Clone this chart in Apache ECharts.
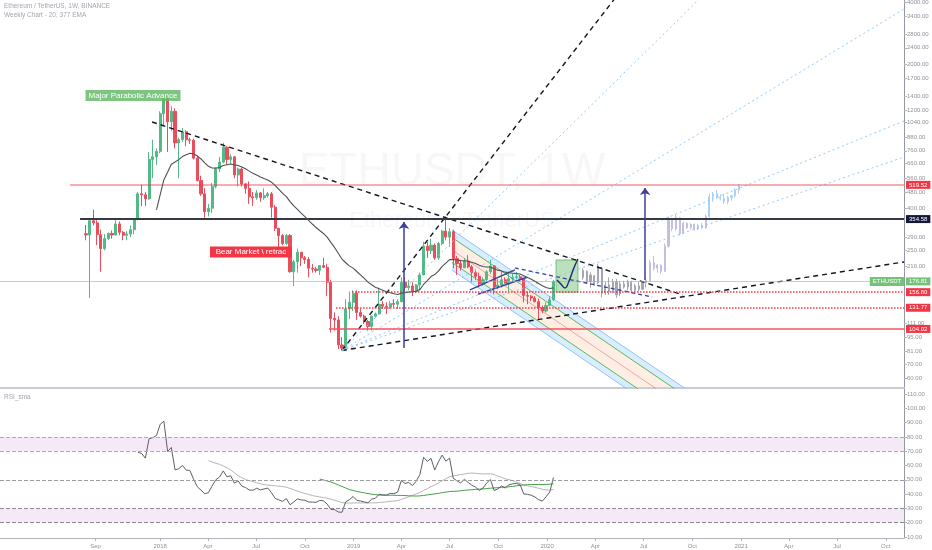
<!DOCTYPE html>
<html><head><meta charset="utf-8">
<script src="https://cdn.jsdelivr.net/npm/echarts@6/dist/echarts.min.js"></script>
<style>html,body{margin:0;padding:0;background:#fff}#c{width:932px;height:550px}</style>
</head><body><div id="c"></div>
<script>
// ---------- DATA ----------
// weekly candles from 2017-08-14 (week index 0): [open, high, low, close]
const firstWeek = '2017-08-14';
const candles = [
[301,332,280,297],[297,355,147,348],[348,394,330,340],[340,350,265,298],[298,315,197,255],
[255,300,250,285],[285,305,280,302],[302,312,285,297],[297,350,295,336],[336,345,296,306],
[306,310,280,296],[296,310,280,300],[300,330,290,315],[315,356,300,354],[354,480,350,470],
[470,520,410,465],[465,480,410,445],[445,750,440,690],[690,860,560,710],[710,780,650,755],
[755,1180,740,1150],[1150,1420,1000,1360],[1360,1400,750,1050],[1050,1250,950,1180],[1180,1220,780,830],
[830,880,560,860],[860,980,840,940],[940,955,800,860],[860,880,820,855],[855,870,690,700],
[700,720,540,545],[545,575,460,470],[470,500,360,385],[385,420,365,400],[400,530,380,510],
[510,630,500,620],[620,710,600,670],[670,830,660,790],[790,800,650,690],[690,730,650,710],
[710,715,560,580],[580,630,510,620],[620,630,510,525],[525,530,470,500],[500,540,420,455],
[455,480,410,450],[450,490,440,475],[475,480,430,450],[450,500,440,460],[460,480,450,470],
[470,480,360,405],[405,415,310,320],[320,320,250,295],[295,300,265,270],[270,300,265,295],
[295,300,195,197],[197,225,168,220],[220,255,195,245],[245,245,210,230],[230,235,215,226],
[226,232,185,205],[205,215,195,203],[203,208,195,200],[200,212,190,211],[211,230,205,207],
[207,215,150,175],[175,180,100,117],[117,125,102,115],[115,120,83,87],[87,95,81.8,84],
[84,145,83,130],[130,158,116,140],[140,160,127,155],[155,160,115,125],[125,130,118,120],
[120,122,110,113],[113,115,102,107],[107,121,102,120],[120,125,118,123],[123,165,122,137],
[137,142,130,134],[134,140,123,133],[133,142,130,138],[138,145,133,137],[137,145,130,141],
[141,185,140,175],[175,185,160,165],[165,180,160,168],[168,175,150,158],[158,172,155,170],
[170,195,160,190],[190,275,190,262],[262,275,230,250],[250,285,240,265],[265,270,225,230],
[230,275,225,270],[270,315,265,310],[310,364.5,280,290],[290,320,260,308],[308,315,205,228],
[228,235,190,216],[216,225,200,206],[206,230,205,222],[222,237,205,208],[208,212,175,195],
[195,200,180,187],[187,195,165,172],[172,185,168,180],[180,200,175,197],[197,225,192,210],
[210,212,153,165],[165,182,162,170],[170,200,165,180],[180,185,168,172],[172,198,158,182],
[182,192,176,185],[185,196,181,186],[186,190,176,183],[183,184,140,151],[151,158,137,150],
[150,152,142,147],[147,150,140,141],[141,146,116,132],[132,135,124,127],[127,140,125,135],
[135,150,134,144],[144,180,142,176.81]
];
// projected bar pattern: [week, open, high, low, close]
const ghostGray = [
[134,185,205,180,200],[135,198,200,172,176],[136,176,195,165,190],[137,188,190,168,172],[138,174,215,172,210],
[139,205,208,148,155],[140,156,176,152,170],[141,170,185,152,158],[142,160,182,155,176],[143,176,182,147,152],
[144,154,178,150,172],[145,172,178,163,166],[146,166,180,160,176],[147,175,178,156,160],[148,160,172,155,168],
[149,168,176,158,162],[150,162,178,160,175],[151,175,182,165,178]
];
const ghostPurple = [
[152,178,225,176,218],[153,218,235,200,205],[154,205,215,195,212],[155,212,214,192,198],[156,198,270,196,262],
[157,262,365,258,352],[158,350,360,310,318],[159,318,372,312,362],[160,360,362,295,302],[161,302,345,300,338],
[162,338,342,318,322],[163,322,338,316,334],[164,334,338,312,318],[165,318,336,314,330],[166,330,340,318,322],
[167,322,372,318,365]
];
const ghostBlue = [
[168,365,470,360,455],[169,455,480,430,470],[170,470,490,445,452],[171,452,468,438,445],[172,445,472,420,430],
[173,430,460,418,452],[174,452,465,435,460],[175,460,500,450,490],[176,490,522,470,515]
];
// axis ticks
const priceTicks = [4000,3400,2800,2400,2000,1700,1400,1200,1040,880,760,660,560,480,400,290,250,210,111,95,81,70,60];
const rsiTicks = [10,20,30,40,50,60,70,80,90,100,110];
const xTickLabels = ['Sep','2018','Apr','Jul','Oct','2019','Apr','Jul','Oct','2020','Apr','Jul','Oct','2021','Apr','Jul','Oct'];
const xTickDates = ['2017-09-01','2018-01-01','2018-04-01','2018-07-01','2018-10-01','2019-01-01','2019-04-01','2019-07-01','2019-10-01','2020-01-01','2020-04-01','2020-07-01','2020-10-01','2021-01-01','2021-04-01','2021-07-01','2021-10-01'];
// horizontal levels [startWeek, price]
const levelRed519 = [-4.3, 519.52];
const levelBlack354 = [-1.6, 354.58];
const levelRed156 = [71.7, 156.80];
const levelRed131 = [67.4, 131.77];
const levelRed104 = [65.5, 104.02];
const lastPrice = 176.81;
// drawings, [week, price] points
const steepUp = [[69,81.8],[146,5000]];
const downTrend = [[17.8,1048],[160.9,152]];
const lowerUp = [[69,81.8],[220.5,219.7]];
const navyDash = [[115.6,205.5],[152.6,148.6]];
const wedgeA = [[103.5,160.7],[115.6,200.9]];
const wedgeB = [[105.7,153.2],[118.9,185.2]];
const fanA = [[69,81.8],[170.9,5190]];
const fanB = [[69,81.8],[220.5,3700]];
const fanC = [[69,81.8],[220.5,1060]];
const fanD = [[69,81.8],[220.5,709]];
const chOuterTop = [[98.65,314.0],[165.5,47.84]];
const chGreenTop = [[98.65,288.8],[165.5,44.0]];
const chCenter = [[98.65,251.2],[165.5,38.27]];
const chGreenBot = [[98.65,218.5],[165.5,33.29]];
const chOuterBot = [[98.65,201.0],[165.5,30.6]];
const greenBox = [[126.7,224.6],[132.6,156.8]];
const checkMark = [[126.95,179.7],[128.0,171.9],[129.1,164.3],[130.2,177.7],[131.5,205.5],[132.6,227.2]];
const arrow1 = [[85.7,84.1],[85.7,343.4]];
const arrow2 = [[150.7,179.7],[150.7,501.7]];
const noteMajor = [12.67, 1409];
const noteBear = [44.47, 245.7];
const noteSymbol = [215.9, 176.81];

// ---------- SETUP ----------
const xMin = -23.18, xMax = 220.49;
const DAY = 864e5;
const t0 = Date.parse(firstWeek + 'T00:00:00Z');
const weekOf = s => (Date.parse(s + 'T00:00:00Z') - t0) / (7 * DAY);
const xTickVals = xTickDates.map(weekOf);

const closes = candles.map(c => c[3]);
function ema(src, n) {
  const out = []; const k = 2 / (n + 1); let prev = null;
  for (let i = 0; i < src.length; i++) {
    if (i < n - 1) { out.push(null); continue; }
    if (i === n - 1) prev = src.slice(0, n).reduce((a, b) => a + b) / n;
    else prev = src[i] * k + prev * (1 - k);
    out.push(prev);
  }
  return out;
}
function rsi(src, n) {
  const out = src.map(() => null); let ag = 0, al = 0;
  for (let i = 1; i <= n; i++) { const d = src[i] - src[i - 1]; ag += Math.max(d, 0); al += Math.max(-d, 0); }
  ag /= n; al /= n; out[n] = 100 - 100 / (1 + ag / al);
  for (let i = n + 1; i < src.length; i++) {
    const d = src[i] - src[i - 1];
    ag = (ag * (n - 1) + Math.max(d, 0)) / n; al = (al * (n - 1) + Math.max(-d, 0)) / n;
    out[i] = al === 0 ? 100 : 100 - 100 / (1 + ag / al);
  }
  return out;
}
function sma(src, n) {
  return src.map((v, i) => {
    if (i < n - 1) return null;
    const w = src.slice(i - n + 1, i + 1);
    if (w.some(x => x == null)) return null;
    return w.reduce((a, b) => a + b) / n;
  });
}
const toPts = arr => arr.map((v, i) => [i, v]).filter(p => p[1] != null);
const ema20 = ema(closes, 20);
const rsi14 = rsi(closes, 14);
const rsiSma20 = sma(rsi14, 20);
const rsiSma50 = sma(rsi14, 50);

const FONT = '"Liberation Sans", Arial, sans-serif';
const axisGray = '#8f929b';

function seg(pts, color, type, width, z, smooth) {
  return { type: 'line', xAxisIndex: 0, yAxisIndex: 0, data: pts, symbol: 'none', silent: true, smooth: !!smooth,
    lineStyle: { color: color, type: type, width: width }, z: z, animation: false };
}
function candleSeries(data, up, down, w, z) {
  return { type: 'candlestick', xAxisIndex: 0, yAxisIndex: 0, data: data, encode: { x: 0, y: [1, 2, 3, 4] },
    barWidth: w, z: z, silent: true,
    itemStyle: { color: up, color0: down, borderColor: up, borderColor0: down, borderWidth: 1 } };
}
const poly = (a, b) => a.concat(b.slice().reverse());
const polygons = [
  { pts: poly(chOuterTop, chGreenTop), fill: 'rgba(144,202,249,0.35)' },
  { pts: poly(chGreenTop, chGreenBot), fill: 'rgba(255,205,175,0.35)' },
  { pts: poly(chGreenBot, chOuterBot), fill: 'rgba(144,202,249,0.35)' },
  { pts: [[greenBox[0][0], greenBox[0][1]], [greenBox[1][0], greenBox[0][1]], [greenBox[1][0], greenBox[1][1]], [greenBox[0][0], greenBox[1][1]]],
    fill: 'rgba(76,175,80,0.38)', stroke: 'rgba(76,175,80,0.7)' }
];

function levelLine(lv, color, type, width, label, bg, txt) {
  return [
    { coord: [lv[0], lv[1]], lineStyle: { color: color, type: type, width: width },
      label: { show: true, position: 'end', distance: 2, formatter: label, backgroundColor: bg, color: txt || '#fff',
        fontSize: 6, fontFamily: FONT, padding: [1, 3, 1, 3] } },
    { coord: [xMax, lv[1]] }
  ];
}
function arrowLine(a) {
  return [
    { coord: a[0], symbol: 'none', lineStyle: { color: '#3c3f9e', width: 1.5, type: 'solid' }, label: { show: false } },
    { coord: a[1], symbol: 'arrow', symbolSize: [8, 7] }
  ];
}
function note(pos, text, bg, size, width) {
  const lab = { show: true, position: 'inside', formatter: text, backgroundColor: bg, color: '#fff',
    fontSize: size, fontFamily: FONT, padding: [2, 3, 1, 3] };
  if (width) { lab.width = width; lab.overflow = 'truncate'; lab.ellipsis = ''; }
  return { coord: pos, symbol: 'rect', symbolSize: 0, label: lab };
}

const option = {
  animation: false,
  backgroundColor: '#ffffff',
  textStyle: { fontFamily: FONT },
  grid: [
    { left: 0, right: 28, top: 0, height: 388, outerBoundsMode: 'none', containLabel: false },
    { left: 0, right: 28, top: 389, height: 149, outerBoundsMode: 'none', containLabel: false }
  ],
  xAxis: [
    { type: 'value', gridIndex: 0, min: xMin, max: xMax, axisLabel: { show: false }, axisTick: { show: false },
      splitLine: { show: false }, axisLine: { show: true, onZero: false, lineStyle: { color: '#c9ccd3', width: 2 } } },
    { type: 'value', gridIndex: 1, min: xMin, max: xMax, splitLine: { show: false },
      axisLine: { show: true, onZero: false, lineStyle: { color: '#b2b5be', width: 1 } },
      axisTick: { show: true, customValues: xTickVals, length: 3, lineStyle: { color: '#b2b5be' } },
      axisLabel: { customValues: xTickVals, fontSize: 6, color: axisGray, margin: 5, fontFamily: FONT,
        formatter: v => { const i = xTickVals.findIndex(x => Math.abs(x - v) < 1e-3); return i >= 0 ? xTickLabels[i] : ''; } } }
  ],
  yAxis: [
    { type: 'log', gridIndex: 0, position: 'right', min: 53.8, max: 4090, splitLine: { show: false },
      axisLine: { show: true, onZero: false, lineStyle: { color: '#9598a1' } },
      axisTick: { show: true, customValues: priceTicks, length: 3, lineStyle: { color: '#b2b5be' } },
      axisLabel: { customValues: priceTicks, fontSize: 6, color: axisGray, margin: 3, fontFamily: FONT,
        formatter: v => Number(v).toFixed(2) } },
    { type: 'value', gridIndex: 1, position: 'right', min: 9.3, max: 113.5, splitLine: { show: false },
      axisLine: { show: true, onZero: false, lineStyle: { color: '#9598a1' } },
      axisTick: { show: true, customValues: rsiTicks, length: 3, lineStyle: { color: '#b2b5be' } },
      axisLabel: { customValues: rsiTicks, fontSize: 6, color: axisGray, margin: 3, fontFamily: FONT,
        formatter: v => Number(v).toFixed(2) } }
  ],
  graphic: [
    { type: 'text', x: 4, y: 3, z: 100, style: { text: 'Ethereum / TetherUS, 1W, BINANCE', fill: '#a3a6af', font: '6.5px ' + FONT } },
    { type: 'text', x: 4, y: 11.5, z: 100, style: { text: 'Weekly Chart - 20, 377 EMA', fill: '#a3a6af', font: '6.5px ' + FONT } },
    { type: 'text', x: 4, y: 394, z: 100, style: { text: 'RSI_sma', fill: '#a3a6af', font: '6.5px ' + FONT } },
    { type: 'text', x: 452, y: 172, z: -10, style: { text: 'ETHUSDT, 1W', textAlign: 'center', textVerticalAlign: 'middle', fill: 'rgba(120,123,134,0.06)', font: '46px ' + FONT } },
    { type: 'text', x: 452, y: 221, z: -10, style: { text: 'Ethereum / TetherUS', textAlign: 'center', textVerticalAlign: 'middle', fill: 'rgba(120,123,134,0.06)', font: '22px ' + FONT } }
  ],
  series: [
    // channel fills and green box
    { type: 'custom', xAxisIndex: 0, yAxisIndex: 0, clip: true, silent: true, z: 1,
      data: polygons.map((p, i) => [i]),
      renderItem: (params, api) => {
        const p = polygons[params.dataIndex];
        return { type: 'polygon', shape: { points: p.pts.map(q => api.coord(q)) },
          style: { fill: p.fill, stroke: p.stroke || null, lineWidth: 1 } };
      } },
    seg(chOuterTop, '#8fc5f5', 'solid', 1, 2), seg(chOuterBot, '#8fc5f5', 'solid', 1, 2),
    seg(chGreenTop, '#5cb860', 'solid', 1, 2), seg(chGreenBot, '#5cb860', 'solid', 1, 2),
    seg(chCenter, 'rgba(229,115,115,0.6)', 'solid', 1, 2),
    // candles
    candleSeries(candles.map((c, i) => [i, c[0], c[3], c[2], c[1]]), '#53b987', '#eb4d5c', 2.6, 3),
    candleSeries(ghostGray.map(g => [g[0], g[1], g[4], g[3], g[2]]), '#a4a7b0', '#a4a7b0', 1.6, 3),
    candleSeries(ghostPurple.map(g => [g[0], g[1], g[4], g[3], g[2]]), '#c4bedf', '#c4bedf', 1.6, 3),
    candleSeries(ghostBlue.map(g => [g[0], g[1], g[4], g[3], g[2]]), '#a7d2f6', '#a7d2f6', 1.6, 3),
    // drawings
    seg(steepUp, '#131722', [5, 4], 1.4, 4),
    seg(downTrend, '#131722', [5, 4], 1.4, 4),
    seg(lowerUp, '#131722', [5, 4], 1.4, 4),
    seg(navyDash, '#3c3f9e', [4, 3], 1.3, 4),
    seg(wedgeA, '#3c3f9e', 'solid', 1.4, 4),
    seg(wedgeB, '#3c3f9e', 'solid', 1.4, 4),
    seg(fanA, '#90caf9', [2, 3], 1, 4),
    seg(fanB, '#90caf9', [2, 3], 1, 4),
    seg(fanC, '#90caf9', [2, 3], 1, 4),
    seg(fanD, '#90caf9', [2, 3], 1, 4),
    seg(checkMark, '#1e2a6e', 'solid', 1.4, 6, true),
    // EMA with levels, arrows and notes
    { type: 'line', xAxisIndex: 0, yAxisIndex: 0, data: toPts(ema20), symbol: 'none', silent: true, clip: false, z: 5,
      lineStyle: { color: '#4f5159', width: 1.1 },
      markLine: { silent: true, symbol: ['none', 'none'], animation: false,
        data: [
          levelLine([xMin, lastPrice], 'rgba(129,199,132,0.6)', 'solid', 1, '176.81', '#76c27a'),
          levelLine(levelRed519, 'rgba(242,54,69,0.55)', 'solid', 1.5, '519.52', '#f23645'),
          levelLine(levelBlack354, '#363a45', 'solid', 1.8, '354.58', '#14193a'),
          levelLine(levelRed156, '#f23645', 'dotted', 1.5, '156.80', '#f23645'),
          levelLine(levelRed131, '#f23645', 'dotted', 1.5, '131.77', '#f23645'),
          levelLine(levelRed104, '#f25560', 'solid', 1.5, '104.02', '#f23645'),
          arrowLine(arrow1), arrowLine(arrow2)
        ] },
      markPoint: { silent: true, animation: false,
        data: [
          note(noteMajor, 'Major Parabolic Advance', 'rgba(102,187,106,0.85)', 8),
          note(noteBear, 'Bear Market \\ retrace', '#f23645', 8, 76),
          note(noteSymbol, 'ETHUSDT', '#76c27a', 6)
        ] } },
    // RSI pane
    { type: 'line', xAxisIndex: 1, yAxisIndex: 1, data: toPts(rsi14), symbol: 'none', silent: true, z: 4,
      lineStyle: { color: '#5d606b', width: 1 },
      markArea: { silent: true, itemStyle: { color: 'rgba(206,147,216,0.2)' },
        data: [[{ yAxis: 70 }, { yAxis: 80 }], [{ yAxis: 20 }, { yAxis: 30 }]] },
      markLine: { silent: true, symbol: ['none', 'none'], label: { show: false },
        data: [
          { yAxis: 80, lineStyle: { color: '#f28b9b', type: 'dashed', width: 1 } },
          { yAxis: 70, lineStyle: { color: '#f28b9b', type: 'dashed', width: 1 } },
          { yAxis: 50, lineStyle: { color: '#9e9e9e', type: 'dashed', width: 1 } },
          { yAxis: 30, lineStyle: { color: '#8a8a8a', type: 'dashed', width: 1 } },
          { yAxis: 20, lineStyle: { color: '#8a8a8a', type: 'dashed', width: 1 } }
        ] } },
    { type: 'line', xAxisIndex: 1, yAxisIndex: 1, data: toPts(rsiSma20), symbol: 'none', silent: true, z: 3,
      lineStyle: { color: '#b5b5b5', width: 1 } },
    { type: 'line', xAxisIndex: 1, yAxisIndex: 1, data: toPts(rsiSma50), symbol: 'none', silent: true, z: 3,
      lineStyle: { color: '#43a047', width: 1 } }
  ]
};
const chart = echarts.init(document.getElementById('c'), null, { renderer: 'canvas' });
chart.setOption(option);
</script>
</body></html>
